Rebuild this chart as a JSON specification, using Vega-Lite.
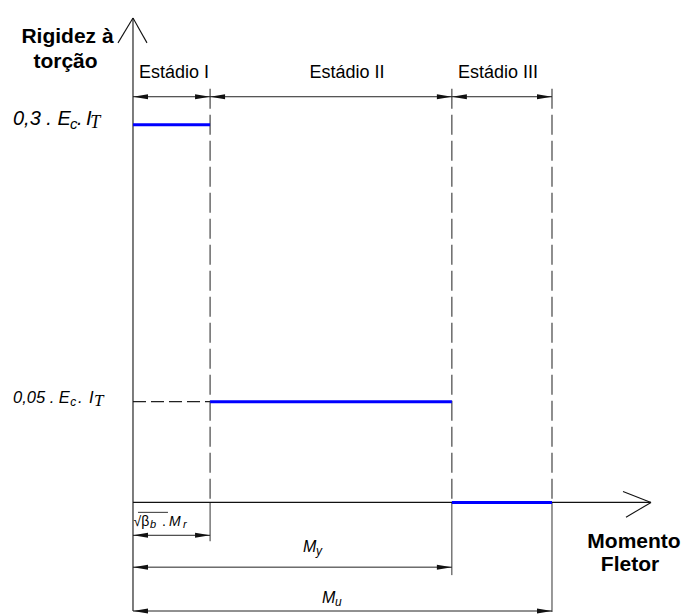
{
  "$schema": "https://vega.github.io/schema/vega-lite/v6.json",
  "width": 687,
  "height": 614,
  "autosize": {"type": "fit", "contains": "padding"},
  "padding": 0,
  "background": "white",
  "config": {"view": {"stroke": null}},
  "datasets": {
    "rigidez": [
      {"x": 0, "x2": 18.4, "y": 0.3, "y2": 0.3},
      {"x": 18.4, "x2": 76.1, "y": 0.05, "y2": 0.05},
      {"x": 76.1, "x2": 100, "y": 0, "y2": 0}
    ],
    "linhas": [
      {"x": 0, "x2": 0, "y": -0.0554, "y2": 0.4202, "tipo": "eixo"},
      {"x": 0, "x2": 123.63, "y": 0, "y2": 0, "tipo": "eixo"},
      {"x": -3.58, "x2": 0, "y": 0.3912, "y2": 0.4202, "tipo": "eixo"},
      {"x": 3.34, "x2": 0, "y": 0.3912, "y2": 0.4202, "tipo": "eixo"},
      {"x": 116.95, "x2": 123.63, "y": 0.002472, "y2": 0, "tipo": "eixo"},
      {"x": 117.66, "x2": 123.63, "y": -0.003765, "y2": 0, "tipo": "eixo"},
      {"x": 18.4, "x2": 18.4, "y": 0.3392, "y2": 0, "tipo": "tracejada_v"},
      {"x": 76.1, "x2": 76.1, "y": 0.3392, "y2": 0, "tipo": "tracejada_v"},
      {"x": 100, "x2": 100, "y": 0.3392, "y2": 0, "tipo": "tracejada_v"},
      {"x": 0, "x2": 18.4, "y": 0.05, "y2": 0.05, "tipo": "tracejada_h"},
      {"x": 18.4, "x2": 18.4, "y": 0, "y2": -0.01375, "tipo": "chamada"},
      {"x": 76.1, "x2": 76.1, "y": 0, "y2": -0.03217, "tipo": "chamada"},
      {"x": 100, "x2": 100, "y": 0, "y2": -0.0561, "tipo": "chamada"},
      {"x": 1.19, "x2": 8.35, "y": -0.002171, "y2": -0.002171, "tipo": "chamada"}
    ],
    "cotas": [
      {"x": 0, "x2": 18.4, "y": 0.3304},
      {"x": 18.4, "x2": 76.1, "y": 0.3304},
      {"x": 76.1, "x2": 100, "y": 0.3304},
      {"x": 0, "x2": 18.4, "y": -0.01098},
      {"x": 0, "x2": 76.1, "y": -0.0275},
      {"x": 0, "x2": 100, "y": -0.0554}
    ],
    "textos": [
      {"texto": "Estádio I", "x": 9.8, "y": 0.3515, "estilo": "estadio"},
      {"texto": "Estádio II", "x": 51.07, "y": 0.3515, "estilo": "estadio"},
      {"texto": "Estádio III", "x": 87.11, "y": 0.3515, "estilo": "estadio"},
      {"texto": "Rigidez à", "x": -15.63, "y": 0.3912, "estilo": "titulo"},
      {"texto": "torção", "x": -16.11, "y": 0.3626, "estilo": "titulo"},
      {"texto": "Momento", "x": 119.57, "y": -0.0172, "estilo": "titulo"},
      {"texto": "Fletor", "x": 118.62, "y": -0.0298, "estilo": "titulo"},
      {"texto": "0,3 . E", "x": -28.64, "y": 0.3, "estilo": "n1"},
      {"texto": "c", "x": -15.04, "y": 0.3, "estilo": "i1"},
      {"texto": ".", "x": -13.37, "y": 0.3, "estilo": "n1"},
      {"texto": "I", "x": -11.2, "y": 0.3, "estilo": "n1"},
      {"texto": "T", "x": -10.2, "y": 0.3, "estilo": "t1"},
      {"texto": "0,05 . E", "x": -28.64, "y": 0.05, "estilo": "n2"},
      {"texto": "c", "x": -15.0, "y": 0.05, "estilo": "i2"},
      {"texto": ".", "x": -13.13, "y": 0.05, "estilo": "n2"},
      {"texto": "I", "x": -10.5, "y": 0.05, "estilo": "n2"},
      {"texto": "T", "x": -9.3, "y": 0.05, "estilo": "t2"},
      {"texto": "√β", "x": 0.12, "y": -0.007118, "estilo": "c14"},
      {"texto": "b", "x": 4.06, "y": -0.007118, "estilo": "s11"},
      {"texto": ".", "x": 6.92, "y": -0.007118, "estilo": "c14"},
      {"texto": "M", "x": 8.59, "y": -0.007118, "estilo": "m14"},
      {"texto": "r", "x": 11.95, "y": -0.007118, "estilo": "s11"},
      {"texto": "M", "x": 40.57, "y": -0.01925, "estilo": "m16"},
      {"texto": "y", "x": 43.68, "y": -0.01925, "estilo": "s12"},
      {"texto": "M", "x": 45.11, "y": -0.04996, "estilo": "m16"},
      {"texto": "u", "x": 48.21, "y": -0.04996, "estilo": "s12"}
    ]
  },
  "encoding": {
    "x": {"field": "x", "type": "quantitative", "axis": null,
          "scale": {"domain": [-31.74, 132.22], "nice": false, "zero": false}},
    "y": {"field": "y", "type": "quantitative", "axis": null,
          "scale": {"type": "pow", "exponent": 0.738, "domain": [-0.05609, 0.44147], "nice": false, "zero": false}}
  },
  "layer": [
    {
      "data": {"name": "linhas"},
      "transform": [{"filter": "datum.tipo === 'tracejada_v'"}],
      "mark": {"type": "rule", "color": "#444444", "strokeWidth": 1.2, "strokeDash": [20, 6]},
      "encoding": {"x2": {"field": "x2"}, "y2": {"field": "y2"}}
    },
    {
      "data": {"name": "linhas"},
      "transform": [{"filter": "datum.tipo === 'tracejada_h'"}],
      "mark": {"type": "rule", "color": "#222222", "strokeWidth": 1.2, "strokeDash": [13, 5]},
      "encoding": {"x2": {"field": "x2"}, "y2": {"field": "y2"}}
    },
    {
      "data": {"name": "linhas"},
      "transform": [{"filter": "datum.tipo === 'chamada'"}],
      "mark": {"type": "rule", "color": "#333333", "strokeWidth": 1},
      "encoding": {"x2": {"field": "x2"}, "y2": {"field": "y2"}}
    },
    {
      "data": {"name": "cotas"},
      "mark": {"type": "rule", "color": "#222222", "strokeWidth": 1},
      "encoding": {"x2": {"field": "x2"}}
    },
    {
      "data": {"name": "cotas"},
      "mark": {"type": "point", "shape": "M0,0L2,-0.33L2,0.33Z", "size": 225, "filled": true, "opacity": 1, "color": "#111111", "strokeWidth": 0}
    },
    {
      "data": {"name": "cotas"},
      "mark": {"type": "point", "shape": "M0,0L-2,-0.33L-2,0.33Z", "size": 225, "filled": true, "opacity": 1, "color": "#111111", "strokeWidth": 0},
      "encoding": {
        "x": {"field": "x2", "type": "quantitative", "axis": null,
              "scale": {"domain": [-31.74, 132.22], "nice": false, "zero": false}}
      }
    },
    {
      "data": {"name": "linhas"},
      "transform": [{"filter": "datum.tipo === 'eixo'"}],
      "mark": {"type": "rule", "color": "#111111", "strokeWidth": 1.1},
      "encoding": {"x2": {"field": "x2"}, "y2": {"field": "y2"}}
    },
    {
      "data": {"name": "rigidez"},
      "mark": {"type": "rule", "color": "#0000ff", "strokeWidth": 3},
      "encoding": {"x2": {"field": "x2"}, "y2": {"field": "y2"}}
    },
    {
      "data": {"name": "textos"},
      "transform": [{"filter": "datum.estilo === 'estadio'"}],
      "mark": {"type": "text", "font": "Liberation Sans", "fontSize": 18, "align": "center", "baseline": "alphabetic", "color": "#000000"},
      "encoding": {"text": {"field": "texto"}}
    },
    {
      "data": {"name": "textos"},
      "transform": [{"filter": "datum.estilo === 'titulo'"}],
      "mark": {"type": "text", "font": "Liberation Sans", "fontSize": 21, "fontWeight": "bold", "align": "center", "baseline": "alphabetic", "color": "#000000"},
      "encoding": {"text": {"field": "texto"}}
    },
    {
      "data": {"name": "textos"},
      "transform": [{"filter": "datum.estilo === 'n1'"}],
      "mark": {"type": "text", "font": "Liberation Sans", "fontSize": 20, "fontStyle": "italic", "align": "left", "baseline": "alphabetic", "color": "#000000"},
      "encoding": {"text": {"field": "texto"}}
    },
    {
      "data": {"name": "textos"},
      "transform": [{"filter": "datum.estilo === 'i1'"}],
      "mark": {"type": "text", "font": "Liberation Sans", "fontSize": 15, "fontStyle": "italic", "align": "left", "baseline": "alphabetic", "dy": 4, "color": "#000000"},
      "encoding": {"text": {"field": "texto"}}
    },
    {
      "data": {"name": "textos"},
      "transform": [{"filter": "datum.estilo === 't1'"}],
      "mark": {"type": "text", "font": "Liberation Serif", "fontSize": 18, "fontStyle": "italic", "align": "left", "baseline": "alphabetic", "dy": 3, "color": "#000000"},
      "encoding": {"text": {"field": "texto"}}
    },
    {
      "data": {"name": "textos"},
      "transform": [{"filter": "datum.estilo === 'n2'"}],
      "mark": {"type": "text", "font": "Liberation Sans", "fontSize": 16.5, "fontStyle": "italic", "align": "left", "baseline": "alphabetic", "dy": 1, "color": "#000000"},
      "encoding": {"text": {"field": "texto"}}
    },
    {
      "data": {"name": "textos"},
      "transform": [{"filter": "datum.estilo === 'i2'"}],
      "mark": {"type": "text", "font": "Liberation Sans", "fontSize": 12, "fontStyle": "italic", "align": "left", "baseline": "alphabetic", "dy": 4, "color": "#000000"},
      "encoding": {"text": {"field": "texto"}}
    },
    {
      "data": {"name": "textos"},
      "transform": [{"filter": "datum.estilo === 't2'"}],
      "mark": {"type": "text", "font": "Liberation Serif", "fontSize": 17, "fontStyle": "italic", "align": "left", "baseline": "alphabetic", "dy": 4, "color": "#000000"},
      "encoding": {"text": {"field": "texto"}}
    },
    {
      "data": {"name": "textos"},
      "transform": [{"filter": "datum.estilo === 'c14'"}],
      "mark": {"type": "text", "font": "Liberation Sans", "fontSize": 14, "align": "left", "baseline": "alphabetic", "color": "#000000"},
      "encoding": {"text": {"field": "texto"}}
    },
    {
      "data": {"name": "textos"},
      "transform": [{"filter": "datum.estilo === 'm14'"}],
      "mark": {"type": "text", "font": "Liberation Sans", "fontSize": 14, "fontStyle": "italic", "align": "left", "baseline": "alphabetic", "color": "#000000"},
      "encoding": {"text": {"field": "texto"}}
    },
    {
      "data": {"name": "textos"},
      "transform": [{"filter": "datum.estilo === 's11'"}],
      "mark": {"type": "text", "font": "Liberation Sans", "fontSize": 11, "fontStyle": "italic", "align": "left", "baseline": "alphabetic", "dy": 2, "color": "#000000"},
      "encoding": {"text": {"field": "texto"}}
    },
    {
      "data": {"name": "textos"},
      "transform": [{"filter": "datum.estilo === 'm16'"}],
      "mark": {"type": "text", "font": "Liberation Sans", "fontSize": 16, "fontStyle": "italic", "align": "left", "baseline": "alphabetic", "color": "#000000"},
      "encoding": {"text": {"field": "texto"}}
    },
    {
      "data": {"name": "textos"},
      "transform": [{"filter": "datum.estilo === 's12'"}],
      "mark": {"type": "text", "font": "Liberation Sans", "fontSize": 12, "fontStyle": "italic", "align": "left", "baseline": "alphabetic", "dy": 3, "color": "#000000"},
      "encoding": {"text": {"field": "texto"}}
    }
  ]
}
